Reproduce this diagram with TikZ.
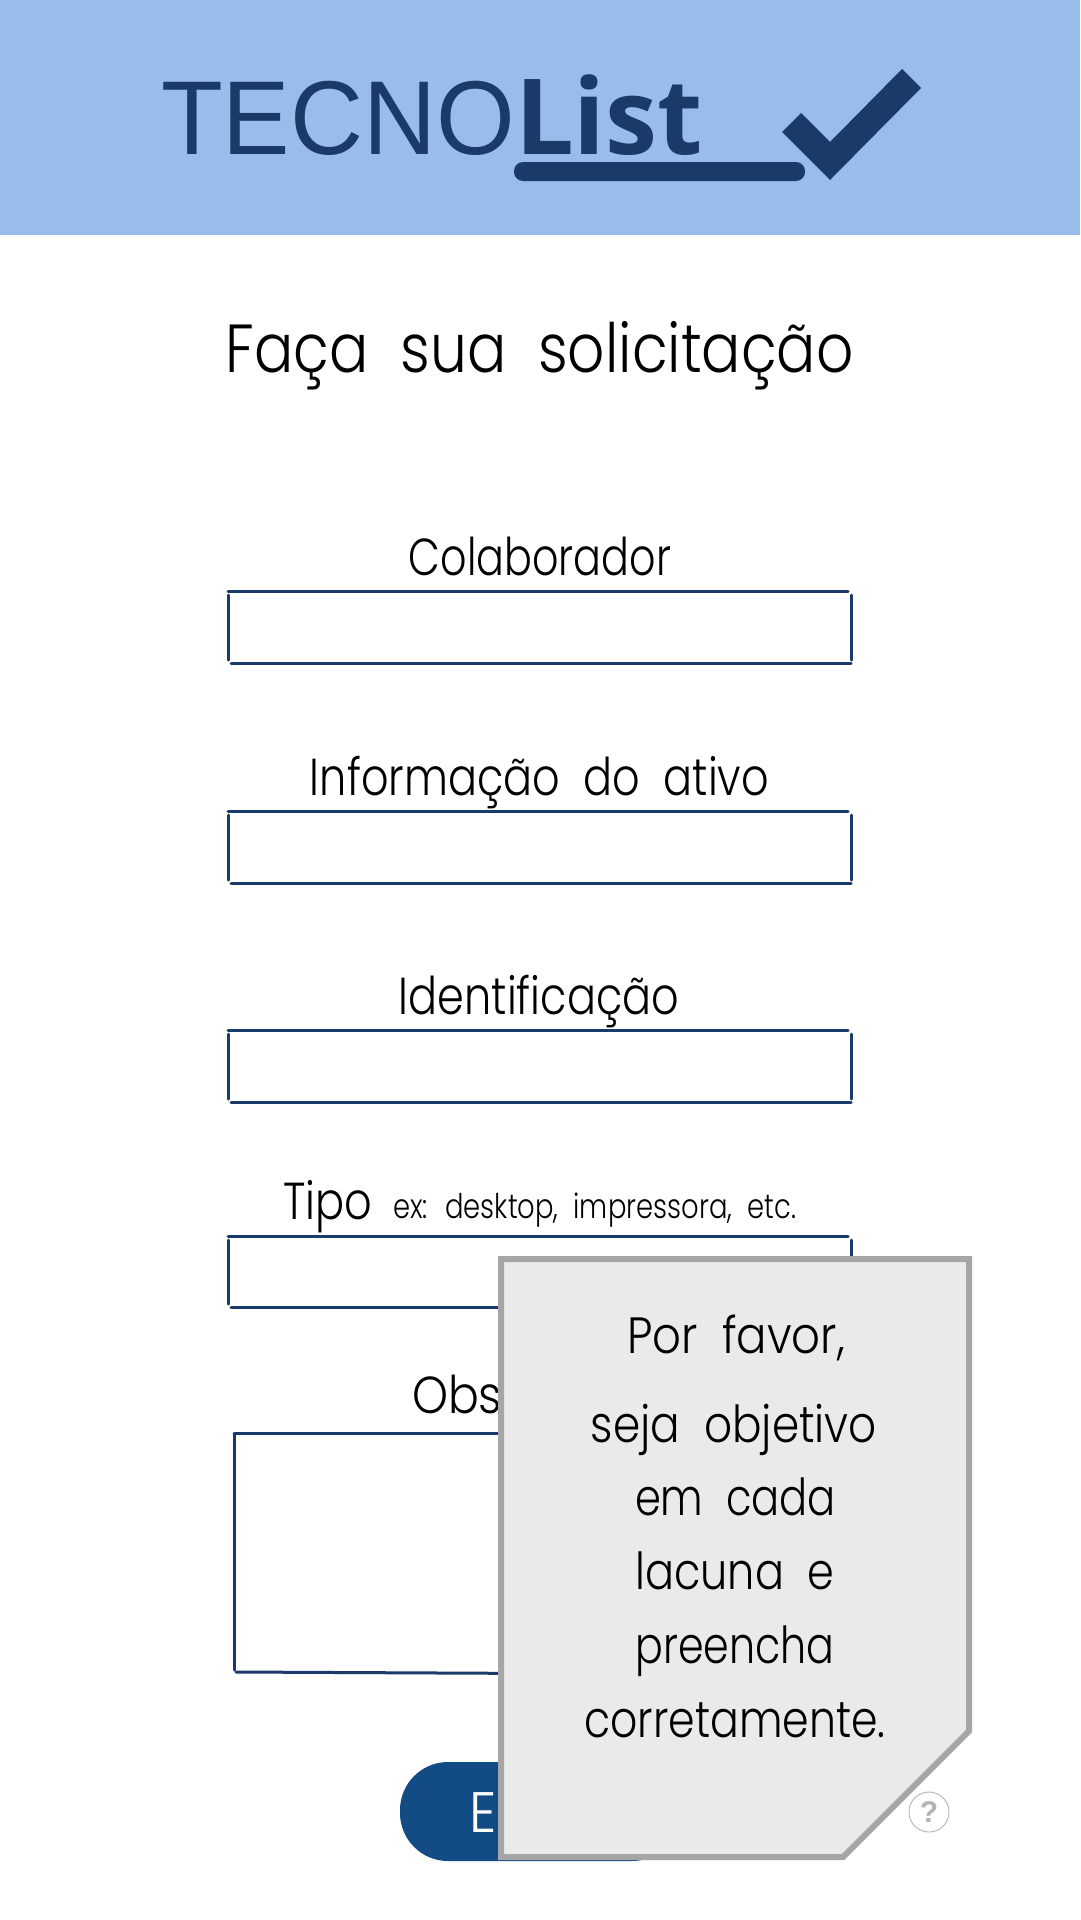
\documentclass[tikz,border=0pt]{standalone}
\usepackage{graphicx}
\usepackage{fontspec}
\setmainfont{Liberation Sans}
\newfontfamily\thinfont{Poppins}[UprightFont=* Light,WordSpace=2]
\newfontfamily\boldfont{Open Sans}[UprightFont=* Bold]
\definecolor{bannerblue}{HTML}{99BDEA}
\definecolor{logoblue}{HTML}{1A3A68}
\definecolor{fieldblue}{HTML}{1A3A6A}
\definecolor{buttonblue}{HTML}{134B85}
\definecolor{notegray}{HTML}{EAEAEA}
\definecolor{noteline}{HTML}{A6A6A6}
\definecolor{helpgray}{HTML}{B4B4B4}
\newcommand{\fitw}[2]{\resizebox{#1pt}{\height}{#2}}
\tikzset{
  txt/.style={anchor=base,inner sep=0pt,outer sep=0pt},
  logotxt/.style={txt,anchor=base west,text=logoblue,font=\fontsize{105}{110}\selectfont},
  fieldlabel/.style={txt,font=\thinfont\fontsize{52}{60}\selectfont},
  notelabel/.style={txt,font=\thinfont\fontsize{51}{60}\selectfont},
  fieldline/.style={draw=fieldblue,line width=3pt,line cap=round},
}
\begin{document}
\begin{tikzpicture}[x=1pt,y=-1pt]
\useasboundingbox (0,0) rectangle (1080,1920);
\fill[white] (0,0) rectangle (1080,1920);
\fill[bannerblue] (0,0) rectangle (1080,235);
\node[logotxt] (tecno) at (161,154) {\fitw{354}{TECNO}};
\node[logotxt,font=\boldfont\fontsize{105}{110}\selectfont] (list) at (515,154) {\fitw{188}{List}};
\fill[logoblue,rounded corners=9pt] (514,162) rectangle (805,181);
\fill[logoblue] (902,69) -- (921,88) -- (830,180) -- (782,132) -- (801,113) -- (830,142) -- cycle;
\node[txt,font=\thinfont\fontsize{68}{80}\selectfont] (titulo) at (539.5,372) {\fitw{628}{Faça sua solicitação}};

\node[fieldlabel] (colab) at (540,575) {\fitw{262}{Colaborador}};
\draw[fieldline] (228,591)--(848,591);
\draw[fieldline] (851,595)--(851,660);
\draw[fieldline] (231,663)--(851,663);
\draw[fieldline] (228,595)--(228,660);

\node[fieldlabel] (ativo) at (539.5,795) {\fitw{459}{Informação do ativo}};
\draw[fieldline] (228,811)--(848,811);
\draw[fieldline] (851,815)--(851,880);
\draw[fieldline] (231,883)--(851,883);
\draw[fieldline] (228,815)--(228,880);

\node[fieldlabel] (ident) at (539,1014) {\fitw{280}{Identificação}};
\draw[fieldline] (228,1030)--(848,1030);
\draw[fieldline] (851,1034)--(851,1099);
\draw[fieldline] (231,1102)--(851,1102);
\draw[fieldline] (228,1034)--(228,1099);

\node[fieldlabel,anchor=base west] (tipo) at (283,1219) {\fitw{89}{Tipo}};
\node[txt,anchor=base west,font=\thinfont\fontsize{34}{40}\selectfont] (tipoex) at (393,1218) {\fitw{403}{ex: desktop, impressora, etc.}};
\draw[fieldline] (228,1236)--(848,1236);
\draw[fieldline] (851,1240)--(851,1304);
\draw[fieldline] (231,1307)--(851,1307);
\draw[fieldline] (228,1240)--(228,1304);

\node[fieldlabel,anchor=base west] (obs) at (412,1413) {\fitw{300}{Observações}};
\draw[fieldline] (234,1433)--(851,1433);
\draw[fieldline] (851,1436)--(851,1672);
\draw[fieldline] (236,1672)--(851,1675);
\draw[fieldline] (234,1434)--(234,1670);

\fill[buttonblue,rounded corners=48pt] (400,1762) rectangle (680,1861);
\node[txt,anchor=base west,text=white,font=\thinfont\fontsize{57}{60}\selectfont] (enviar) at (469,1832) {\fitw{160}{Enviar}};

\node[circle,draw=helpgray,line width=0.9pt,minimum size=40pt,inner sep=0pt,text=helpgray,font=\bfseries\fontsize{30}{30}\selectfont] (ajuda) at (929,1812) {?};

\draw[draw=noteline,fill=notegray,line width=6pt,miter limit=10] (501,1259) -- (969,1259) -- (969,1731) -- (843,1857) -- (501,1857) -- cycle;
\node[notelabel] (nota1) at (736,1353) {\fitw{218}{Por favor,}};
\node[notelabel] (nota2) at (734,1442) {\fitw{286}{seja objetivo}};
\node[notelabel] (nota3) at (735.5,1515) {\fitw{201}{em cada}};
\node[notelabel] (nota4) at (735,1589) {\fitw{199}{lacuna e}};
\node[notelabel] (nota5) at (735,1663) {\fitw{199}{preencha}};
\node[notelabel] (nota6) at (735,1737) {\fitw{301}{corretamente.}};
\end{tikzpicture}
\end{document}
